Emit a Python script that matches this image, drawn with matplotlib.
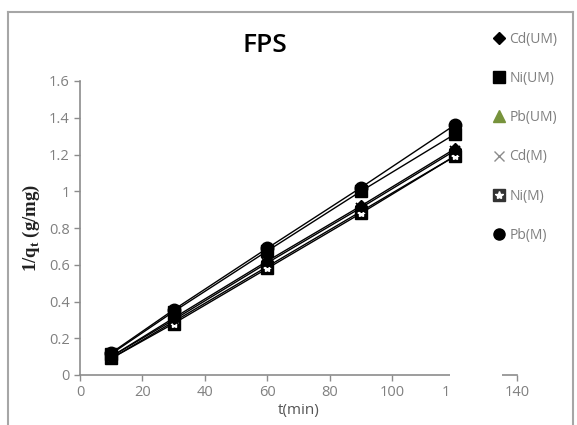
import matplotlib
matplotlib.use("Agg")
import matplotlib.pyplot as plt
from matplotlib.lines import Line2D
from matplotlib.patches import Rectangle
from matplotlib.legend_handler import HandlerTuple
from matplotlib.ticker import FuncFormatter

plt.rcParams["font.family"] = ["Open Sans", "DejaVu Sans"]

# data
t_min = [10, 30, 60, 90, 120]
pb_um = [0.09, 0.29, 0.59, 0.89, 1.19]
cd_um = [0.10, 0.31, 0.62, 0.92, 1.23]
ni_um = [0.115, 0.345, 0.675, 1.00, 1.31]
cd_m = [0.10, 0.30, 0.61, 0.91, 1.22]
ni_m = [0.09, 0.28, 0.58, 0.88, 1.19]
pb_m = [0.12, 0.355, 0.69, 1.02, 1.36]

x_ticks = [0, 20, 40, 60, 80, 100, 120, 140]
y_ticks = [0, 0.2, 0.4, 0.6, 0.8, 1.0, 1.2, 1.4, 1.6]

W, H = 577, 425
fig = plt.figure(figsize=(W / 100, H / 100), dpi=100)
ax = fig.add_axes([80 / W, 1 - 375 / H, (517 - 80) / W, (375 - 81) / H])

GREY = "#8c8c8c"
OLIVE = "#77933C"

line_kw = dict(color="black", linewidth=1.0)
ax.plot(t_min, pb_um, marker="^", markersize=7, markerfacecolor=OLIVE,
        markeredgecolor=OLIVE, **line_kw)
ax.plot(t_min, ni_m, marker="s", markersize=8, markerfacecolor="black",
        markeredgecolor="black", **line_kw)
ax.plot(t_min, ni_m, linestyle="none", marker="*", markersize=6,
        markerfacecolor="white", markeredgecolor="white")
ax.plot(t_min, cd_m, marker="x", markersize=7, markeredgewidth=1.3, **line_kw)
ax.plot(t_min, cd_um, marker="D", markersize=6, markerfacecolor="black",
        markeredgecolor="black", **line_kw)
ax.plot(t_min, ni_um, marker="s", markersize=8, markerfacecolor="black",
        markeredgecolor="black", **line_kw)
ax.plot(t_min, pb_m, marker="o", markersize=9, markerfacecolor="black",
        markeredgecolor="black", **line_kw)

ax.set_xlim(0, 140)
ax.set_ylim(0, 1.6)
ax.set_xticks(x_ticks)
ax.set_yticks(y_ticks)
ax.yaxis.set_major_formatter(FuncFormatter(lambda v, p: f"{v:g}"))
for s in ["top", "right"]:
    ax.spines[s].set_visible(False)
for s in ["left", "bottom"]:
    ax.spines[s].set_color(GREY)
    ax.spines[s].set_linewidth(1.2)
ax.tick_params(axis="both", colors=GREY, labelsize=10.5, length=4, width=1.0,
               labelcolor="#808080")

ax.set_xlabel("t(min)", fontsize=11, color="#555555", labelpad=2)
ax.set_ylabel(r"1/q$_\mathregular{t}$ (g/mg)", fontsize=13.5, fontweight="bold",
              family="Liberation Serif", color="#222222", labelpad=5)

fig.text(265 / W, 1 - 45 / H, "FPS", fontsize=19, fontweight="semibold",
         ha="center", va="center", color="black")

# legend, markers only
h_cd_um = Line2D([], [], linestyle="none", marker="D", markersize=6, color="black")
h_ni_um = Line2D([], [], linestyle="none", marker="s", markersize=8, color="black")
h_pb_um = Line2D([], [], linestyle="none", marker="^", markersize=8, color=OLIVE)
h_cd_m = Line2D([], [], linestyle="none", marker="x", markersize=7,
                markeredgewidth=1.0, color=GREY)
h_ni_m = (Line2D([], [], linestyle="none", marker="s", markersize=8, color="#333333"),
          Line2D([], [], linestyle="none", marker="*", markersize=6, color="white"))
h_pb_m = Line2D([], [], linestyle="none", marker="o", markersize=8, color="black")
leg = fig.legend([h_cd_um, h_ni_um, h_pb_um, h_cd_m, h_ni_m, h_pb_m],
                 ["Cd(UM)", "Ni(UM)", "Pb(UM)", "Cd(M)", "Ni(M)", "Pb(M)"],
                 handler_map={tuple: HandlerTuple(ndivide=1, pad=0)},
                 loc="upper left", bbox_to_anchor=(486 / W, 1 - 26 / H),
                 frameon=False, fontsize=10, labelspacing=1.75,
                 handlelength=1.0, handletextpad=0.3, borderaxespad=0)
for txt in leg.get_texts():
    txt.set_color("#7f7f7f")

# white patch hiding part of the x axis, as in the source image
fig.patches.append(Rectangle((450 / W, 1 - 400 / H), 52 / W, 29 / H,
                             transform=fig.transFigure, facecolor="white",
                             edgecolor="none", zorder=10))

# outer grey frame
frame_kw = dict(transform=fig.transFigure, color="#a6a6a6", linewidth=1.5)
fig.lines.append(Line2D([8 / W, 8 / W], [0, 1 - 12 / H], **frame_kw))
fig.lines.append(Line2D([8 / W, 573 / W], [1 - 12 / H, 1 - 12 / H], **frame_kw))
fig.lines.append(Line2D([573 / W, 573 / W], [0, 1 - 12 / H], **frame_kw))

fig.savefig("out.png", dpi=100)
